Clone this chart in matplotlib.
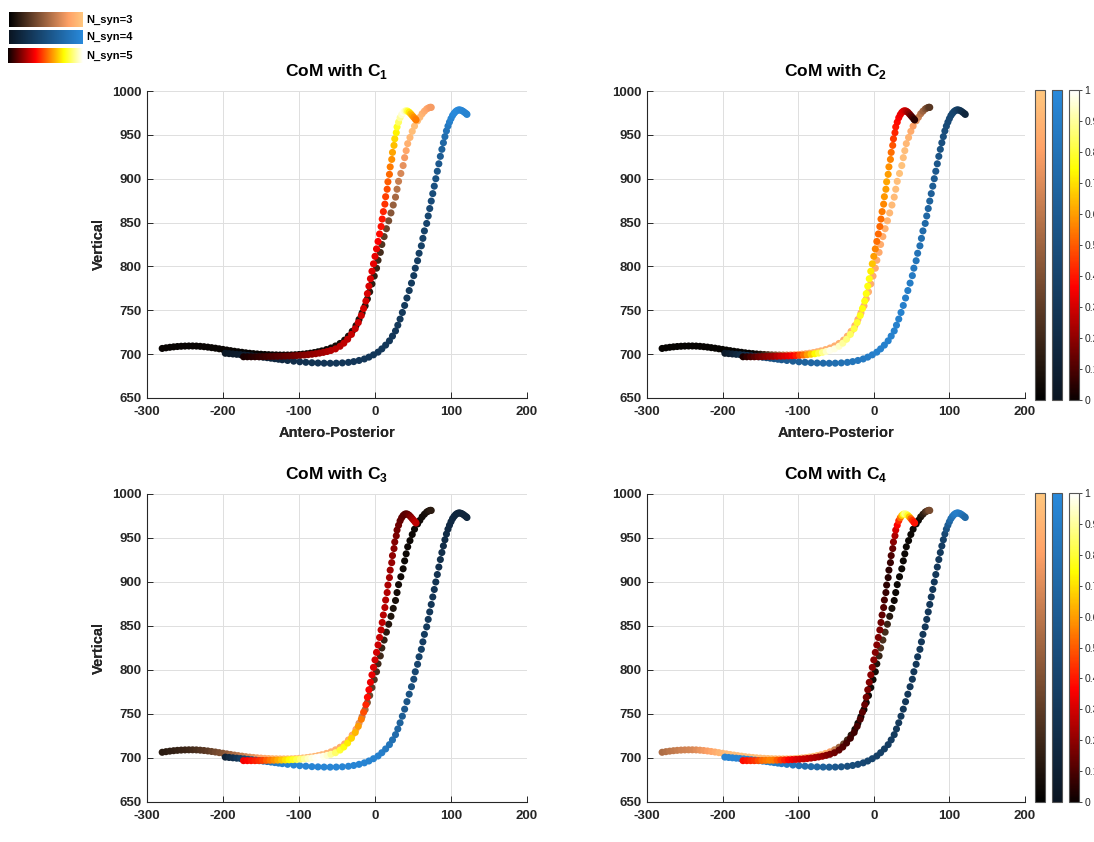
import matplotlib
matplotlib.use('Agg')
import numpy as np
import matplotlib.pyplot as plt
from matplotlib.colors import LinearSegmentedColormap, Normalize
from matplotlib.cm import ScalarMappable

plt.rcParams['font.family'] = ['Liberation Sans', 'DejaVu Sans']
plt.rcParams['mathtext.fontset'] = 'custom'
plt.rcParams['mathtext.rm'] = 'Liberation Sans'
plt.rcParams['mathtext.bf'] = 'Liberation Sans:bold'
plt.rcParams['axes.unicode_minus'] = False

# ---------------- data ----------------
LEGEND_LABELS = ['N_syn=3', 'N_syn=4', 'N_syn=5']
TITLES = ['CoM with C$_{\\mathbf{1}}$', 'CoM with C$_{\\mathbf{2}}$',
          'CoM with C$_{\\mathbf{3}}$', 'CoM with C$_{\\mathbf{4}}$']
X_TICKS = [-300, -200, -100, 0, 100, 200]
Y_TICKS = [650, 700, 750, 800, 850, 900, 950, 1000]
CB_TICKS = [0, 0.1, 0.2, 0.3, 0.4, 0.5, 0.6, 0.7, 0.8, 0.9, 1]
CB_TICKLABELS = ['0', '0.1', '0.2', '0.3', '0.4', '0.5', '0.6', '0.7', '0.8', '0.9', '1']

# CoM trajectory, N_syn = 3
T3_X = [-280, -275, -270, -265, -260, -255, -250, -245, -240, -235, -230, -225, -220, -215, -210,
        -205, -200, -195, -190, -185, -180, -175, -170, -165, -160, -155, -150, -145, -140, -135,
        -130, -125, -120, -115, -110, -105, -100, -95, -90, -85, -80, -75, -70,
        -64, -58, -52, -46, -40, -35, -30, -25, -21, -17, -13, -10, -7, -4, -1, 2, 4, 7, 9, 12,
        15, 18, 21, 24, 27, 29, 31, 34, 37, 39, 41, 43, 46, 49, 52, 56, 59, 62, 65, 68, 70, 72, 73, 74]
T3_Y = [706.5, 707.2, 707.8, 708.3, 708.7, 709.0, 709.2, 709.3, 709.3, 709.2, 708.9, 708.5, 708.0,
        707.4, 706.8, 706.1, 705.4, 704.7, 704.0, 703.3, 702.7, 702.1, 701.5, 701.0, 700.6, 700.2,
        699.9, 699.6, 699.4, 699.2, 699.1, 699.0, 699.0, 699.0, 699.1, 699.3, 699.6, 700.0, 700.5,
        701.1, 701.8, 702.7, 703.7,
        705.2, 707.0, 709.3, 712.2, 716, 720.5, 726, 732.5, 739.5, 747, 755, 763, 771, 780, 789,
        798, 807, 816, 825, 834, 843, 852, 861, 870, 879, 888, 897, 906, 915, 924, 932, 940, 947,
        954, 960, 966, 970, 974, 977, 979.5, 980.5, 981.2, 981.5, 981.3]

# CoM trajectory, N_syn = 4
T4_X = [-197, -192, -187, -182, -177, -172, -167, -162, -157, -152, -147, -142, -137, -132, -127, -122,
        -115, -107, -99, -91, -83, -75, -67, -59, -51, -43, -35, -28, -21, -14, -8, -2,
        4, 9, 14, 19, 23, 27, 30, 33, 36, 39, 42, 45, 48, 51, 53, 56, 58, 61, 63, 65, 68, 70, 72,
        74, 76, 78, 80, 82, 84, 86, 88, 90, 92, 94, 96, 98, 100, 102, 104, 106, 108, 110, 112,
        114, 116, 118, 120, 121]
T4_Y = [701.0, 700.6, 700.2, 699.8, 699.4, 699.0, 698.5, 698.0, 697.5, 697.0, 696.5, 696.0, 695.4,
        694.8, 694.2, 693.6,
        692.8, 692.0, 691.3, 690.7, 690.2, 689.9, 689.7, 689.6, 689.7, 690.0, 690.6, 691.5, 692.8,
        694.5, 696.6, 699.2,
        702.3, 706, 710.3, 715.2, 720.6, 726.5, 733, 740, 747.5, 755.5, 764, 772.5, 781, 789.5, 798,
        806.5, 815, 823.5, 832, 840.5, 849, 857.5, 866, 874.5, 883, 891.5, 900, 908.5, 917, 925.5,
        933.5, 941, 948, 954.5, 960, 964.5, 968.5, 972, 974.5, 976.5, 977.8, 978.5, 978.4, 977.8,
        976.8, 975.5, 974.2, 973.3]

# CoM trajectory, N_syn = 5
T5_X = [-173, -168, -163, -158, -153, -148, -143, -138, -133, -128, -123, -118, -113, -108, -103,
        -98, -93, -88, -83, -78, -73, -68, -63, -58,
        -52, -46, -41, -36, -31, -26, -22, -18, -15, -12, -10, -8, -6, -4, -2, 0, 2, 4, 6, 8, 9.5,
        11, 13, 14, 16, 17, 19, 20, 22, 23, 25, 26, 28, 29, 31, 33, 35, 37, 39, 41, 43, 45, 47, 49,
        51, 53, 54]
T5_Y = [697.0, 697.0, 697.0, 697.0, 697.1, 697.2, 697.3, 697.4, 697.5, 697.6, 697.7, 697.8, 698.0,
        698.2, 698.4, 698.7, 699.0, 699.4, 699.9, 700.5, 701.2, 702.0, 703.0, 704.2,
        706, 709, 712.5, 717, 722.5, 729, 736, 744, 752, 760.5, 769, 777.5, 786, 794.5, 803, 811.5,
        820, 828.5, 837, 845.5, 854, 862.5, 871, 879.5, 888, 896.5, 905, 913.5, 922, 930, 938,
        945.5, 952.5, 959, 964.5, 969.5, 973, 975.5, 977, 977.5, 977, 975.8, 974, 972, 970, 968, 967]

# synergy activation along each trajectory (percent), one list per (C_k, N_syn)
C1_N3 = [3, 3, 3, 3, 3, 3, 3, 3, 3, 3, 3, 3, 3, 3, 3, 3, 3, 3, 3, 3, 2, 2, 2, 2, 2, 2, 2, 2, 2, 2,
         2, 2, 2, 2, 2, 2, 3, 3, 3, 3, 4, 4, 4,
         5, 5, 6, 6, 7, 7, 8, 9, 10, 11, 12, 13, 14, 15,
         16, 18, 20, 22, 26, 30, 34, 38, 43, 48, 53, 58, 63, 68, 73, 78, 83, 88, 92, 95,
         96, 95, 93, 90, 87, 84, 82, 80, 79, 78]
C2_N3 = [2, 2, 2, 2, 2, 2, 2, 2, 2, 2, 2, 2, 2, 2, 2, 2, 2, 2, 2, 2, 2, 2, 2, 2, 2,
         5, 10, 18, 26, 34, 42, 50, 58, 66, 73, 80,
         83, 85, 86, 87, 88, 88, 88,
         88, 88, 88, 88, 88, 88, 88, 88, 88, 88, 88, 88, 88, 87, 86, 85, 85,
         85, 86, 87, 88, 90, 92, 93, 94, 95, 96, 97, 97, 96, 95, 92, 90, 86, 80, 72, 65,
         58, 50, 44, 38, 33, 30, 28]
C3_N3 = [13, 14, 15, 16, 17, 18, 19, 20, 22, 24, 26, 28, 30, 33, 36, 39, 42, 46, 50, 54,
         58, 62, 66, 70, 74, 78, 82, 85, 88, 90, 91, 92, 93, 94, 95, 95, 95, 95, 95, 94, 93, 92, 91,
         90, 89, 88, 87, 86, 85, 83, 80, 72, 62, 52, 42, 35, 30, 26, 23, 21, 20, 18, 16,
         14, 12, 10, 9, 8, 7, 6, 5, 5, 4, 4, 4, 4, 4, 4, 4, 5, 6, 7, 8, 10, 12, 13, 14]
C4_N3 = [55, 57, 59, 61, 63, 65, 66, 67, 68, 71, 74, 77, 80, 83, 86, 90, 92, 94, 95, 95,
         95, 95, 95, 95, 95, 95, 95, 95, 95, 95, 95, 95, 95, 95, 95, 95, 95, 95, 95, 95, 95, 95, 95,
         90, 80, 65, 50, 35, 22, 12, 6, 5, 5, 5, 5, 5, 5, 5, 7, 10, 18, 25, 24,
         22, 18, 12, 8, 5, 4, 4, 4, 4, 4, 4, 4, 4, 4, 4, 4, 4, 8, 14, 20, 26, 32, 36, 38]

C1_N4 = [3, 4, 5, 6, 7, 8, 9, 10, 11, 12, 13, 14, 15, 16, 17, 18,
         20, 22, 24, 25, 26, 27, 28, 28, 29, 29, 30, 30, 30, 30, 30, 30,
         30, 30, 30, 30, 30, 30, 31, 31, 31, 32, 32, 32, 33, 33, 34, 35, 36, 37, 38, 39,
         40, 42, 44, 46, 48, 50, 52, 55, 58, 61, 65, 70, 75, 80, 85, 90, 94, 97, 99, 100,
         100, 99, 98, 97, 96, 95, 95, 94]
C2_N4 = [5, 8, 12, 16, 20, 24, 28, 32, 36, 40, 44, 47, 50, 53, 56, 58,
         60, 62, 64, 66, 68, 70, 72, 74, 76, 78, 80, 82, 84, 86, 88, 90,
         92, 92, 92, 92, 92, 92, 92, 92, 92, 91, 90, 89, 88, 86, 84, 82, 80, 78, 76, 74,
         72, 70, 68, 66, 64, 62, 60, 58, 56, 54, 52, 50, 49, 48, 47, 46, 45, 44, 43, 42,
         40, 38, 34, 30, 26, 22, 18, 15]
C3_N4 = [12, 18, 24, 30, 36, 42, 48, 54, 60, 66, 72, 77, 82, 86, 89, 92,
         94, 95, 96, 96, 96, 96, 96, 96, 96, 96, 96, 96, 95, 95, 94, 94,
         93, 90, 86, 82, 78, 74, 70, 66, 62, 58, 55, 52, 49, 46, 43, 41, 39, 37, 35, 33,
         32, 31, 30, 29, 28, 27, 26, 25, 24, 23, 22, 21, 20, 20, 19, 19, 18, 18, 17, 17,
         16, 16, 16, 15, 15, 15, 15, 15]
C4_N4 = [95, 95, 95, 95, 95, 94, 94, 93, 93, 92, 92, 91, 90, 89, 88, 87,
         85, 82, 79, 76, 73, 70, 66, 62, 58, 54, 50, 48, 46, 44, 42, 40,
         38, 37, 36, 35, 34, 33, 32, 32, 31, 30, 30, 30, 30, 30, 30, 30, 30, 30, 30, 30,
         30, 30, 30, 30, 30, 30, 30, 30, 30, 31, 32, 34, 38, 44, 52, 60, 68, 75, 80, 85,
         88, 90, 90, 88, 85, 80, 76, 72]

C1_N5 = [2, 3, 4, 5, 6, 7, 8, 9, 10, 11, 12, 13, 14, 15, 16, 17, 18, 19, 20, 21, 22, 23, 24, 25,
         26, 26, 27, 27, 28, 28, 29, 29, 30, 30, 31, 31, 32, 32, 33, 33, 34, 36, 38, 39,
         40, 42, 44, 46, 48, 50, 52, 55, 58, 61, 65, 69, 73, 78, 84, 90, 95, 98, 95, 88,
         80, 72, 66, 62, 58, 56, 55]
C2_N5 = [3, 6, 9, 12, 15, 17, 19, 21, 23, 26, 29, 31, 33, 36, 40, 47, 53, 60, 67, 74, 80, 88, 94, 98,
         97, 94, 90, 87, 84, 81, 79, 77, 76, 76, 76, 76, 76, 72, 66, 60, 56, 53, 52, 52,
         53, 55, 57, 59, 60, 61, 60, 58, 56, 53, 49, 45, 42, 40, 38, 36, 34, 33, 32, 30,
         27, 23, 19, 14, 10, 7, 5]
C3_N5 = [35, 37, 39, 41, 43, 46, 50, 54, 58, 62, 66, 70, 74, 78, 82, 86, 90, 94, 97, 99, 100, 98, 95, 90,
         85, 80, 76, 72, 68, 64, 60, 55, 48, 42, 38, 36, 34, 33, 31, 30, 30, 29, 28, 27,
         27, 26, 26, 25, 25, 24, 23, 22, 21, 20, 19, 18, 17, 16, 15, 14, 13, 12, 12, 12,
         13, 15, 18, 21, 24, 26, 27]
C4_N5 = [38, 40, 42, 44, 48, 52, 54, 56, 55, 50, 45, 41, 37, 34, 32, 30, 28, 27, 25, 24, 23, 21, 19, 17,
         15, 13, 11, 9, 8, 8, 9, 10, 12, 14, 16, 17, 18, 19, 19, 19, 18, 18, 17, 17,
         15, 13, 11, 9, 7, 5, 4, 5, 7, 10, 14, 19, 24, 30, 36, 42, 52, 65, 78, 88,
         85, 78, 66, 52, 44, 40, 39]

# ---------------- styling ----------------
W, H = 1094, 842
TXT = '#262626'
blue_cmap = LinearSegmentedColormap.from_list('darkblue', [(0.04, 0.08, 0.13), (0.16, 0.54, 0.86)])
CMAPS = [plt.get_cmap('copper'), blue_cmap, plt.get_cmap('hot')]
TRAJ = [(T3_X, T3_Y), (T4_X, T4_Y), (T5_X, T5_Y)]
ACTS = [(C1_N3, C1_N4, C1_N5), (C2_N3, C2_N4, C2_N5), (C3_N3, C3_N4, C3_N5), (C4_N3, C4_N4, C4_N5)]
AX_BOX = [(147, 91, 527, 398), (647, 91, 1025, 398), (147, 494, 527, 802), (647, 494, 1025, 802)]

fig = plt.figure(figsize=(W / 100, H / 100), dpi=100)


def add_px(l, t, r, b):
    return fig.add_axes([l / W, 1 - b / H, (r - l) / W, (b - t) / H])


norm = Normalize(0, 1)
for k, (l, t, r, b) in enumerate(AX_BOX):
    ax = add_px(l, t, r, b)
    for (tx, ty), act, cmap in zip(TRAJ, ACTS[k], CMAPS):
        ax.scatter(tx, ty, c=np.asarray(act) / 100.0, cmap=cmap, norm=norm,
                   s=26, linewidths=0, zorder=3)
    ax.set_xlim(-300, 200)
    ax.set_ylim(650, 1000)
    ax.set_xticks(X_TICKS)
    ax.set_yticks(Y_TICKS)
    ax.grid(True, color='#dfdfdf', linewidth=0.7, zorder=0)
    ax.set_axisbelow(True)
    for s in ('top', 'right'):
        ax.spines[s].set_visible(False)
    for s in ('left', 'bottom'):
        ax.spines[s].set_color(TXT)
        ax.spines[s].set_linewidth(0.8)
    ax.tick_params(direction='in', length=4, width=0.7, color=TXT, labelcolor=TXT,
                   labelsize=9.5, pad=4)
    ax.tick_params(axis='x', pad=6)
    for lab in ax.get_xticklabels() + ax.get_yticklabels():
        lab.set_fontweight('bold')
    ax.set_title(TITLES[k], fontsize=12.5, fontweight='bold', color='black', pad=11)
    ax.set_xlabel('Antero-Posterior', fontsize=10.5, fontweight='bold', color=TXT)
    ax.xaxis.set_label_coords(0.5, -(433 - b) / (b - t))
    ax.xaxis.label.set_va('center')
    ax.set_ylabel('Vertical', fontsize=10.5, fontweight='bold', color=TXT)
    ax.yaxis.set_label_coords((99 - l) / (r - l), 0.5)
    ax.yaxis.label.set_va('center')

# colorbars on the right of each row
CB_X = [(1035, 1045), (1052, 1062), (1069, 1079)]
for (t, b) in [(90, 400), (493, 802)]:
    for j, (cl, cr) in enumerate(CB_X):
        cax = add_px(cl, t, cr, b)
        cb = fig.colorbar(ScalarMappable(norm=norm, cmap=CMAPS[j]), cax=cax)
        cb.outline.set_edgecolor('#555555')
        cb.outline.set_linewidth(0.8)
        if j < 2:
            cb.set_ticks([])
        else:
            cb.set_ticks(CB_TICKS)
            cb.set_ticklabels(CB_TICKLABELS)
            cax.tick_params(labelsize=7.5, length=2.5, width=0.6, color=TXT,
                            labelcolor=TXT, pad=1.5)

# legend-like gradient strips at top-left
LEG_BOX = [(9, 12, 83, 27), (9, 30, 83, 44), (8, 48, 82, 63)]
grad = np.linspace(0, 1, 256)[None, :]
for (l, t, r, b), cmap, lab in zip(LEG_BOX, CMAPS, LEGEND_LABELS):
    lax = add_px(l, t, r, b)
    lax.imshow(grad, aspect='auto', cmap=cmap, extent=(0, 1, 0, 1))
    lax.set_axis_off()
    fig.text(86 / W, 1 - ((t + b) / 2) / H, lab, fontsize=8, fontweight='bold',
             color='black', ha='left', va='center')

fig.savefig('out.png', dpi=100)
